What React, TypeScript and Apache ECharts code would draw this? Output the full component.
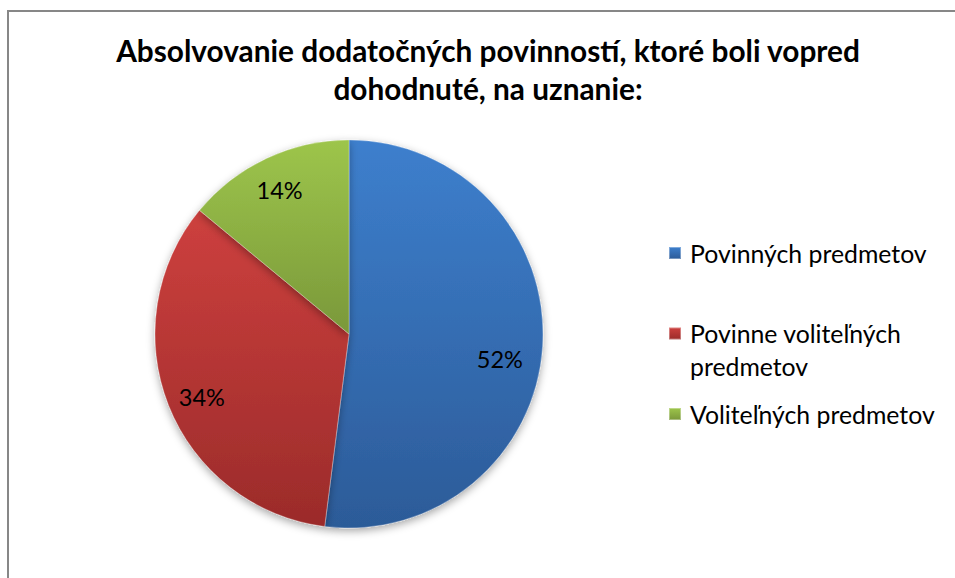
import React, { useEffect, useRef } from "react";
import * as echarts from "echarts";

const titleText = "Absolvovanie dodatočných povinností, ktoré boli vopred\ndohodnuté, na uznanie:";
const categories = ["Povinných predmetov", "Povinne voliteľných predmetov", "Voliteľných predmetov"];
const legendLabels = ["Povinných predmetov", "\u00a0\nPovinne voliteľných\npredmetov", "Voliteľných predmetov"];
const values = [52, 34, 14];
const topColors = ["#3d7fcd", "#cd403e", "#9dc54b"];
const bottomColors = ["#2c5b98", "#9b2b2a", "#7a983a"];
const labelNudges = [[-7, 15], [0, 5], [-2, -1]];

const FONT = "Lato, 'Open Sans', sans-serif";

export default function App() {
  const ref = useRef<HTMLDivElement>(null);
  useEffect(() => {
    if (!ref.current) return;
    const chart = echarts.init(ref.current, null, { renderer: "svg" });
    const grad = (i: number) =>
      new echarts.graphic.LinearGradient(0, 0, 0, 1, [
        { offset: 0, color: topColors[i] },
        { offset: 1, color: bottomColors[i] },
      ]);
    const data = categories.map((name, i) => ({
      name,
      value: values[i],
      itemStyle: { color: grad(i) },
    }));
    const center = [349, 334];
    const R = 194;
    chart.setOption({
      animation: false,
      backgroundColor: "#ffffff",
      title: {
        text: titleText,
        left: 483,
        textAlign: "center",
        top: 26,
        textStyle: {
          fontFamily: FONT,
          fontWeight: "bold",
          fontSize: 29.8,
          lineHeight: 38,
          color: "#000000",
        },
      },
      legend: {
        orient: "vertical",
        left: 663,
        top: 231.5,
        itemWidth: 12,
        itemHeight: 12,
        itemGap: 14.5,
        icon: "rect",
        data: categories,
        formatter: (name: string) => legendLabels[categories.indexOf(name)],
        textStyle: {
          fontFamily: FONT,
          fontSize: 24.8,
          lineHeight: 33,
          color: "#000000",
          padding: [0, 0, 0, 4],
        },
      },
      graphic: [
        {
          type: "rect",
          silent: true,
          z: -1,
          shape: { x: 8, y: 11, width: 2000, height: 2000 },
          style: { fill: "none", stroke: "#878787", lineWidth: 2 },
        },
      ],
      series: [
        {
          type: "pie",
          center,
          radius: [0, R],
          startAngle: 90,
          clockwise: true,
          label: { show: false },
          labelLine: { show: false },
          emphasis: { disabled: true },
          itemStyle: {
            borderColor: "rgba(255,255,255,0.35)",
            borderWidth: 0.8,
            shadowBlur: 8,
            shadowOffsetY: 3,
            shadowColor: "rgba(0,0,0,0.35)",
          },
          data,
        },
        {
          type: "pie",
          silent: true,
          center,
          radius: [0, R * 1.6],
          startAngle: 90,
          clockwise: true,
          legendHoverLink: false,
          itemStyle: { color: "rgba(0,0,0,0)" },
          label: {
            show: true,
            position: "inside",
            formatter: "{c}%",
            fontFamily: FONT,
            fontSize: 23.5,
            color: "#000000",
          },
          labelLayout: (p: any) => ({
            dx: labelNudges[p.dataIndex][0],
            dy: labelNudges[p.dataIndex][1],
          }),
          labelLine: { show: false },
          emphasis: { disabled: true },
          data: categories.map((name, i) => ({ name: name + " ", value: values[i] })),
        },
      ],
    });
    return () => chart.dispose();
  }, []);
  return (
    <div
      ref={ref}
      style={{ position: "fixed", left: 0, top: 0, width: 955, height: 578 }}
    />
  );
}
